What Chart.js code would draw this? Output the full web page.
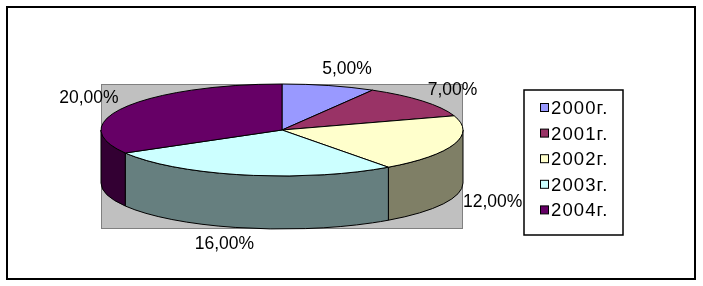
<!DOCTYPE html>
<html>
<head>
<meta charset="utf-8">
<title>3D pie</title>
<script src="https://cdn.jsdelivr.net/npm/chart.js"></script>
<style>
body{margin:0;background:#fff;overflow:hidden}
canvas{display:block}
</style>
</head>
<body>
<canvas id="mycanvas" width="703" height="286"></canvas>
<script>
// data: years and their share in %
var years=["2000г.","2001г.","2002г.","2003г.","2004г."];
var shares=[5,7,12,16,20];
var topColors=["#9999FF","#993366","#FFFFCC","#CCFFFF","#660066"];

var tilt=46/181;     // height/width of the top ellipse
var FONT="'Liberation Sans', Arial, sans-serif";

function darker(hex){
  var n=parseInt(hex.slice(1),16);
  return "rgb("+(((n>>16)&255)>>1)+","+(((n>>8)&255)>>1)+","+((n&255)>>1)+")";
}
function fmtPct(v){ return v.toFixed(2).replace(".",",")+"%"; }

// the pie lies flat in the chart area: top face on top, side wall below it
function geom(chart){
  var a=chart.chartArea;
  var rx=(a.right-a.left)/2, ry=rx*tilt;
  return {cx:(a.left+a.right)/2, cy:a.top+ry, rx:rx, ry:ry, depth:(a.bottom-a.top)-2*ry};
}

var pie3d={
  id:"pie3d",
  beforeDraw:function(chart){
    var ctx=chart.ctx, a=chart.chartArea;
    ctx.save();
    ctx.strokeStyle="#000"; ctx.lineWidth=2;
    ctx.strokeRect(7,7,chart.width-15,chart.height-14);
    ctx.fillStyle="#C0C0C0";
    ctx.fillRect(a.left,a.top,a.right-a.left,a.bottom-a.top);
    ctx.strokeStyle="#808080"; ctx.lineWidth=1;
    ctx.strokeRect(a.left+0.5,a.top+0.5,a.right-a.left-1,a.bottom-a.top-1);
    ctx.restore();
  },
  beforeDatasetsDraw:function(chart){
    var ctx=chart.ctx, g=geom(chart);
    var arcs=chart.getDatasetMeta(0).data;
    var cols=chart.data.datasets[0].backgroundColor;
    ctx.save();
    ctx.lineWidth=1; ctx.strokeStyle="#000"; ctx.lineJoin="round";
    // side wall, only the front half can be seen
    arcs.forEach(function(el,i){
      var a0=Math.max(el.startAngle,0), a1=Math.min(el.endAngle,Math.PI);
      if(a1<=a0) return;
      ctx.beginPath();
      ctx.ellipse(g.cx,g.cy,g.rx,g.ry,0,a0,a1,false);
      ctx.ellipse(g.cx,g.cy+g.depth,g.rx,g.ry,0,a1,a0,true);
      ctx.closePath();
      ctx.fillStyle=darker(cols[i]);
      ctx.fill(); ctx.stroke();
    });
    // top faces
    arcs.forEach(function(el,i){
      ctx.beginPath();
      ctx.moveTo(g.cx,g.cy);
      ctx.ellipse(g.cx,g.cy,g.rx,g.ry,0,el.startAngle,el.endAngle,false);
      ctx.closePath();
      ctx.fillStyle=cols[i];
      ctx.fill(); ctx.stroke();
    });
    ctx.restore();
    return false;
  },
  afterDraw:function(chart){
    var ctx=chart.ctx, g=geom(chart);
    var arcs=chart.getDatasetMeta(0).data;
    var vals=chart.data.datasets[0].data;
    var cols=chart.data.datasets[0].backgroundColor;
    ctx.save();
    ctx.fillStyle="#000";
    ctx.font="17.5px "+FONT;
    ctx.textAlign="center"; ctx.textBaseline="middle";
    // value labels pushed out from the rim along the mid angle
    arcs.forEach(function(el,i){
      var m=(el.startAngle+el.endAngle)/2, c=Math.cos(m), s=Math.sin(m);
      var txt=fmtPct(vals[i]), w=ctx.measureText(txt).width;
      var x=g.cx+(g.rx+10)*c+(c+Math.sign(c))/2*w/2;
      var y=g.cy+(g.ry+10)*s+s*7+(s>0?g.depth:0);
      ctx.fillText(txt,x,y);
    });
    // legend
    var lx=524, ly=90, lw=99, lh=145, row=25.6, first=108;
    ctx.lineWidth=1.5; ctx.strokeStyle="#000";
    ctx.strokeRect(lx,ly,lw,lh);
    ctx.font="18.5px "+FONT;
    ctx.letterSpacing="1.1px";
    ctx.textAlign="left"; ctx.textBaseline="middle";
    chart.data.labels.forEach(function(t,i){
      var y=first+i*row;
      ctx.fillStyle=cols[i];
      ctx.fillRect(lx+16.5,y-4.5,8,8);
      ctx.lineWidth=1;
      ctx.strokeRect(lx+16.5,y-4.5,8,8);
      ctx.fillStyle="#000";
      ctx.fillText(t,lx+27,y+1);
    });
    ctx.restore();
  }
};

new Chart(document.getElementById("mycanvas"),{
  type:"pie",
  data:{
    labels:years,
    datasets:[{data:shares,backgroundColor:topColors,borderColor:"#000",borderWidth:1}]
  },
  options:{
    responsive:false,
    animation:false,
    devicePixelRatio:1,
    layout:{padding:{left:101,top:84,right:240,bottom:57}},
    plugins:{legend:{display:false},tooltip:{enabled:false}}
  },
  plugins:[pie3d]
});
</script>
</body>
</html>
